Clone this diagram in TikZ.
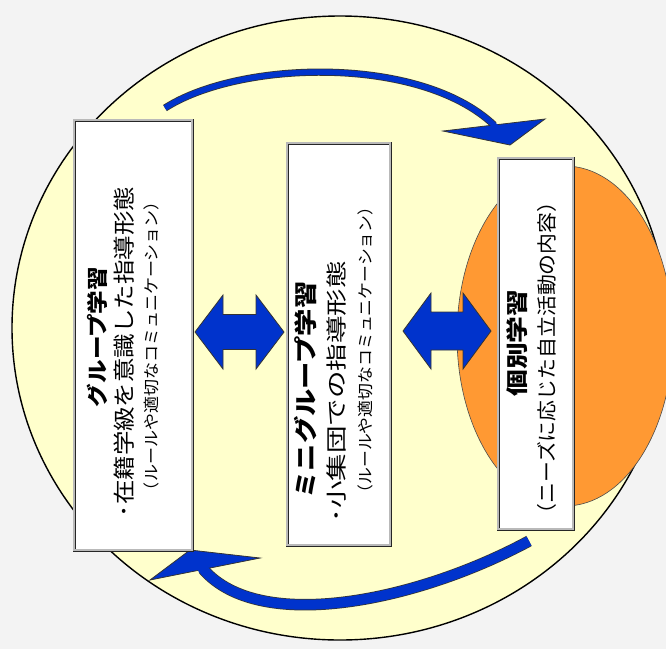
\documentclass[tikz,border=0pt]{standalone}
\usepackage{fontspec}
\usepackage{graphicx}
\usetikzlibrary{shapes.geometric}
\newfontfamily\jp{Noto Sans CJK JP}
\newdimen\tmpw
\newcommand\fitline[3]{{\fontsize{#1pt}{#1pt}\selectfont\settowidth\tmpw{#3}\edef\sclf{\fpeval{#2/\tmpw}}\scalebox{\sclf}[1]{#3}}}
\definecolor{bgc}{RGB}{243,243,243}
\definecolor{circc}{RGB}{255,255,204}
\definecolor{orng}{RGB}{255,153,51}
\definecolor{arrowblue}{RGB}{0,51,204}
\tikzset{
  panel/.style={draw=black!85, double=gray!55, double distance=1.4pt, line width=0.8pt, fill=white, inner sep=0pt, outer sep=0pt},
  txt/.style={rotate=90, inner sep=0pt, anchor=center, font=\jp},
  bluefill/.style={fill=arrowblue, draw=black!80, line width=0.8pt, line join=miter},
}
\begin{document}
\begin{tikzpicture}[x=1pt,y=-1pt]
\fill[bgc] (0,0) rectangle (666,649);
\useasboundingbox (0,0) rectangle (666,649);
% big circle and orange ellipse
\node[ellipse, draw=black, line width=1.4pt, fill=circc, minimum width=656pt, minimum height=624pt, inner sep=0pt] (circ) at (340,328) {};
\node[ellipse, draw=black!70, line width=0.6pt, fill=orng, minimum width=216pt, minimum height=340pt, inner sep=0pt] (orange) at (565,336) {};
% top curved arrow
\coordinate (ttail) at (165,108);
\coordinate (tbase) at (494,125);
\draw[line width=7.2pt, black!80] (ttail) .. controls (240,60) and (420,55) .. (tbase);
\draw[bluefill] (443,131) -- (510,145) -- (545,119) -- cycle;
\draw[line width=5.6pt, arrowblue] (ttail) .. controls (240,60) and (420,55) .. (tbase) -- (496.5,127.4);
% bottom curved arrow
\coordinate (btail) at (529,541);
\coordinate (bbase) at (203,569);
\draw[line width=11.5pt, black!80] (btail) .. controls (420,600) and (260,635) .. (bbase);
\draw[bluefill] (150,580) -- (190,550) -- (260,558) -- cycle;
\draw[line width=10pt, arrowblue] (btail) .. controls (420,600) and (260,635) .. (bbase) -- (201,566.5);
% boxes
\node[panel, minimum width=118pt, minimum height=430pt] (grp) at (133,335) {};
\node[panel, minimum width=103pt, minimum height=402pt] (mini) at (338.5,344) {};
\node[panel, minimum width=75pt, minimum height=371pt] (ind) at (535.5,343.5) {};
% double arrows
\draw[bluefill] (195,332) -- (223,295) -- (223,314.5) -- (256,314.5) -- (256,295) -- (284,332) -- (256,369) -- (256,349.5) -- (223,349.5) -- (223,369) -- cycle;
\draw[bluefill] (403,331) -- (431,293) -- (431,312) -- (463,312) -- (463,293) -- (491,331) -- (463,369) -- (463,350) -- (431,350) -- (431,369) -- cycle;
% texts
\node[txt] (g1) at (97,337) {\fitline{21}{140}{\bfseries グループ学習}};
\node[txt] (g2) at (124,352) {\fitline{22}{330}{･在籍学級を意識した指導形態}};
\node[txt] (g3) at (151,346) {\fitline{16}{306}{（ルールや適切なコミュニケーション）}};
\node[txt] (m1) at (306,390) {\fitline{23}{217}{\bfseries ミニグループ学習}};
\node[txt] (m2) at (337,392) {\fitline{21}{261}{･小集団での指導形態}};
\node[txt] (m3) at (365,350) {\fitline{16}{303}{（ルールや適切なコミュニケーション）}};
\node[txt] (i1) at (517,343) {\fitline{22}{107}{\bfseries 個別学習}};
\node[txt] (i2) at (547,358) {\fitline{20}{333}{（ニーズに応じた自立活動の内容）}};
\end{tikzpicture}
\end{document}
